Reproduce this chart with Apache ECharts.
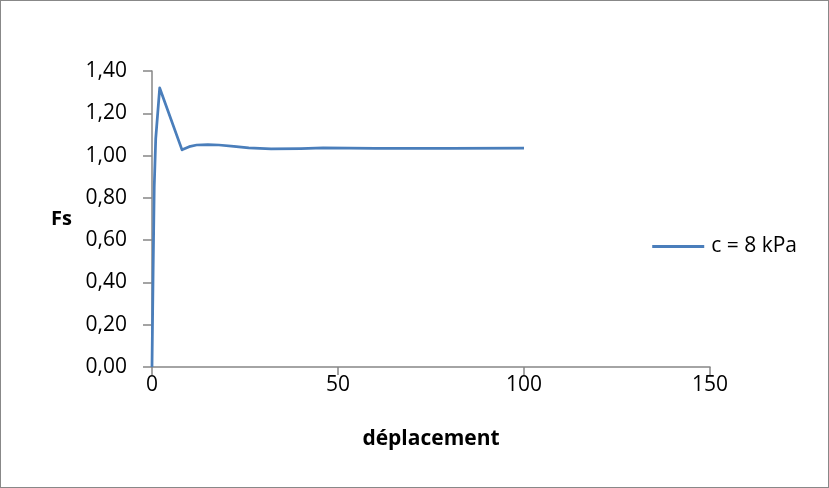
<!DOCTYPE html>
<html><head><meta charset="utf-8">
<script src="https://cdn.jsdelivr.net/npm/echarts@6/dist/echarts.min.js"></script>
<style>html,body{margin:0;padding:0;background:#fff}#c{width:829px;height:488px;box-sizing:border-box;border:1px solid #888}</style>
</head><body><div id="c"></div>
<script>
const seriesName = 'c = 8 kPa';
const xValues = [0, 0.3, 0.6, 1.0, 2.07, 8.07, 10, 12, 15, 18, 22, 26, 32, 40, 46, 60, 80, 100];
const yValues = [0, 0.45, 0.85, 1.08, 1.32, 1.027, 1.042, 1.05, 1.052, 1.05, 1.043, 1.036, 1.032, 1.033, 1.036, 1.034, 1.034, 1.035];
const xTicks = [0, 50, 100, 150];
const yTicks = [0, 0.2, 0.4, 0.6, 0.8, 1.0, 1.2, 1.4];
const data = xValues.map((x, i) => [x, yValues[i]]);
const font = "'Open Sans', 'Liberation Sans', sans-serif";
const chart = echarts.init(document.getElementById('c'), null, {renderer: 'canvas'});
chart.setOption({
  animation: false,
  grid: {left: 151, right: 118, top: 70, bottom: 120, containLabel: false},
  xAxis: {
    type: 'value', min: 0, max: 150, interval: 50,
    name: 'déplacement', nameLocation: 'middle', nameGap: 62,
    nameTextStyle: {fontFamily: font, fontWeight: 'bold', fontSize: 21, color: '#000'},
    axisLine: {show: true, onZero: false, lineStyle: {color: '#868686', width: 1.5}},
    axisTick: {show: true, length: 8, lineStyle: {color: '#868686', width: 1.5}},
    axisLabel: {fontFamily: font, fontSize: 21, color: '#000', margin: 8},
    splitLine: {show: false}
  },
  yAxis: {
    type: 'value', min: 0, max: 1.4, interval: 0.2,
    name: 'Fs', nameLocation: 'middle', nameGap: 80, nameRotate: 0,
    nameTextStyle: {fontFamily: font, fontWeight: 'bold', fontSize: 20, color: '#000'},
    axisLine: {show: true, lineStyle: {color: '#868686', width: 1.5}},
    axisTick: {show: true, length: 9, lineStyle: {color: '#868686', width: 1.5}},
    axisLabel: {fontFamily: font, fontSize: 21, color: '#000', margin: 25,
      formatter: v => v.toFixed(2).replace('.', ',')},
    splitLine: {show: false}
  },
  legend: {
    right: 26, top: 230, orient: 'vertical',
    itemWidth: 52, itemHeight: 3, itemGap: 6, icon: 'rect',
    textStyle: {fontFamily: font, fontSize: 21, color: '#000', padding: [0, 0, 0, 2]},
    data: [{name: seriesName, icon: 'rect'}]
  },
  series: [{
    name: seriesName, type: 'line', data: data, smooth: false,
    showSymbol: false, lineStyle: {color: '#4a7ebb', width: 2.75, join: 'round'},
    itemStyle: {color: '#4a7ebb'}
  }]
});
</script></body></html>
